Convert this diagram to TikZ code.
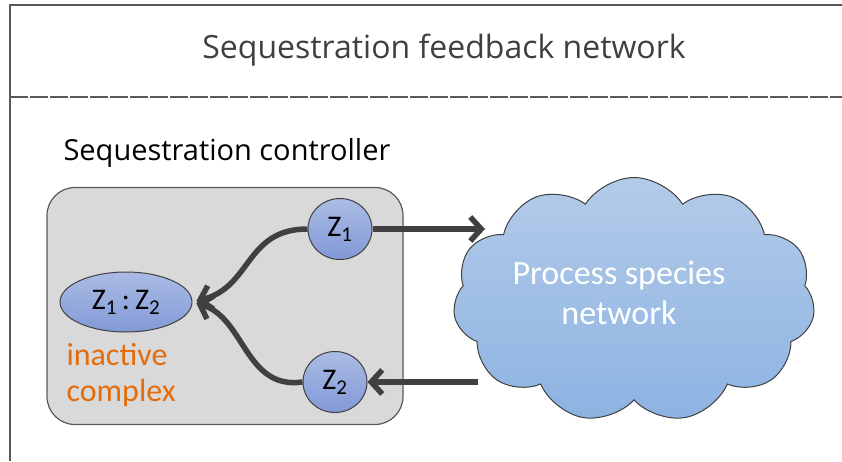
\documentclass[tikz,border=0pt]{standalone}
\usepackage{fontspec}
\setmainfont{Carlito}
\newfontfamily\uifont{Open Sans}
\usetikzlibrary{shapes.geometric,shapes.symbols,arrows.meta}
\definecolor{framec}{HTML}{595959}
\definecolor{titlec}{HTML}{404040}
\definecolor{boxfill}{HTML}{D9D9D9}
\definecolor{ztop}{HTML}{AABCE5}
\definecolor{zbot}{HTML}{8299D6}
\definecolor{ctop}{HTML}{B3CBE9}
\definecolor{cbot}{HTML}{8DB3E2}
\definecolor{arrc}{HTML}{404040}
\definecolor{orangec}{HTML}{E46C0A}
\tikzset{
  species/.style={draw=titlec, line width=1pt, top color=ztop, bottom color=zbot, inner sep=0pt},
  zcircle/.style={species, ellipse, minimum width=64pt, minimum height=61pt, font=\fontsize{30}{34}\selectfont},
  conn/.style={draw=arrc, line width=5.5pt, -{Straight Barb[length=11pt,width=24pt]}},
}
\begin{document}
\begin{tikzpicture}[x=1pt,y=-1pt]
\useasboundingbox (0,0) rectangle (842,461);
% frame
\draw[framec, line width=1.5pt] (10,461) -- (10,5) -- (842,5);
\draw[framec, line width=1.5pt, dash pattern=on 18pt off 2pt] (10,97) -- (842,97);
\node[text=titlec, font=\uifont\fontsize{32}{38}\selectfont] (title) at (444,50) {Sequestration feedback network};
\node[text=black, font=\uifont\fontsize{29}{34}\selectfont, anchor=west] (ctrl) at (60,153) {Sequestration controller};
% controller box
\node[draw=framec, line width=1.2pt, fill=boxfill, rounded corners=28pt, minimum width=356pt, minimum height=237pt] (box) at (225,306) {};
% species
\node[zcircle] (z1) at (340,229) {Z\textsubscript{1}};
\node[zcircle] (z2) at (335,382) {Z\textsubscript{2}};
\node[species, ellipse, minimum width=132pt, minimum height=60pt, font=\fontsize{30}{34}\selectfont] (z12) at (126,302) {Z\textsubscript{1}\,:\,Z\textsubscript{2}};
\node[text=orangec, font=\fontsize{32}{36}\selectfont, align=left, anchor=north west] (inact) at (63,340) {inactive\\complex};
% cloud
\node[cloud, cloud puffs=11, cloud puff arc=115, aspect=1.5, draw=titlec, line width=1pt, top color=ctop, bottom color=cbot, minimum width=362pt, minimum height=245pt, inner sep=0pt] (cloud) at (634,300) {};
\node[text=white, font=\fontsize{34}{40}\selectfont, align=center] (ctext) at (619,293) {Process species\\network};
\coordinate (cin) at (485,229);
\coordinate (cout) at (478,382);
% connectors
\draw[conn, shorten >=4pt] (z1.west) .. controls (245,229) and (252,287) .. (z12.east);
\draw[conn, shorten >=4pt] (z2.west) .. controls (245,390) and (245,318) .. (z12.east);
\draw[conn] (z1.east) -- (cin);
\draw[conn] (cout) -- (z2.east);
\end{tikzpicture}
\end{document}
